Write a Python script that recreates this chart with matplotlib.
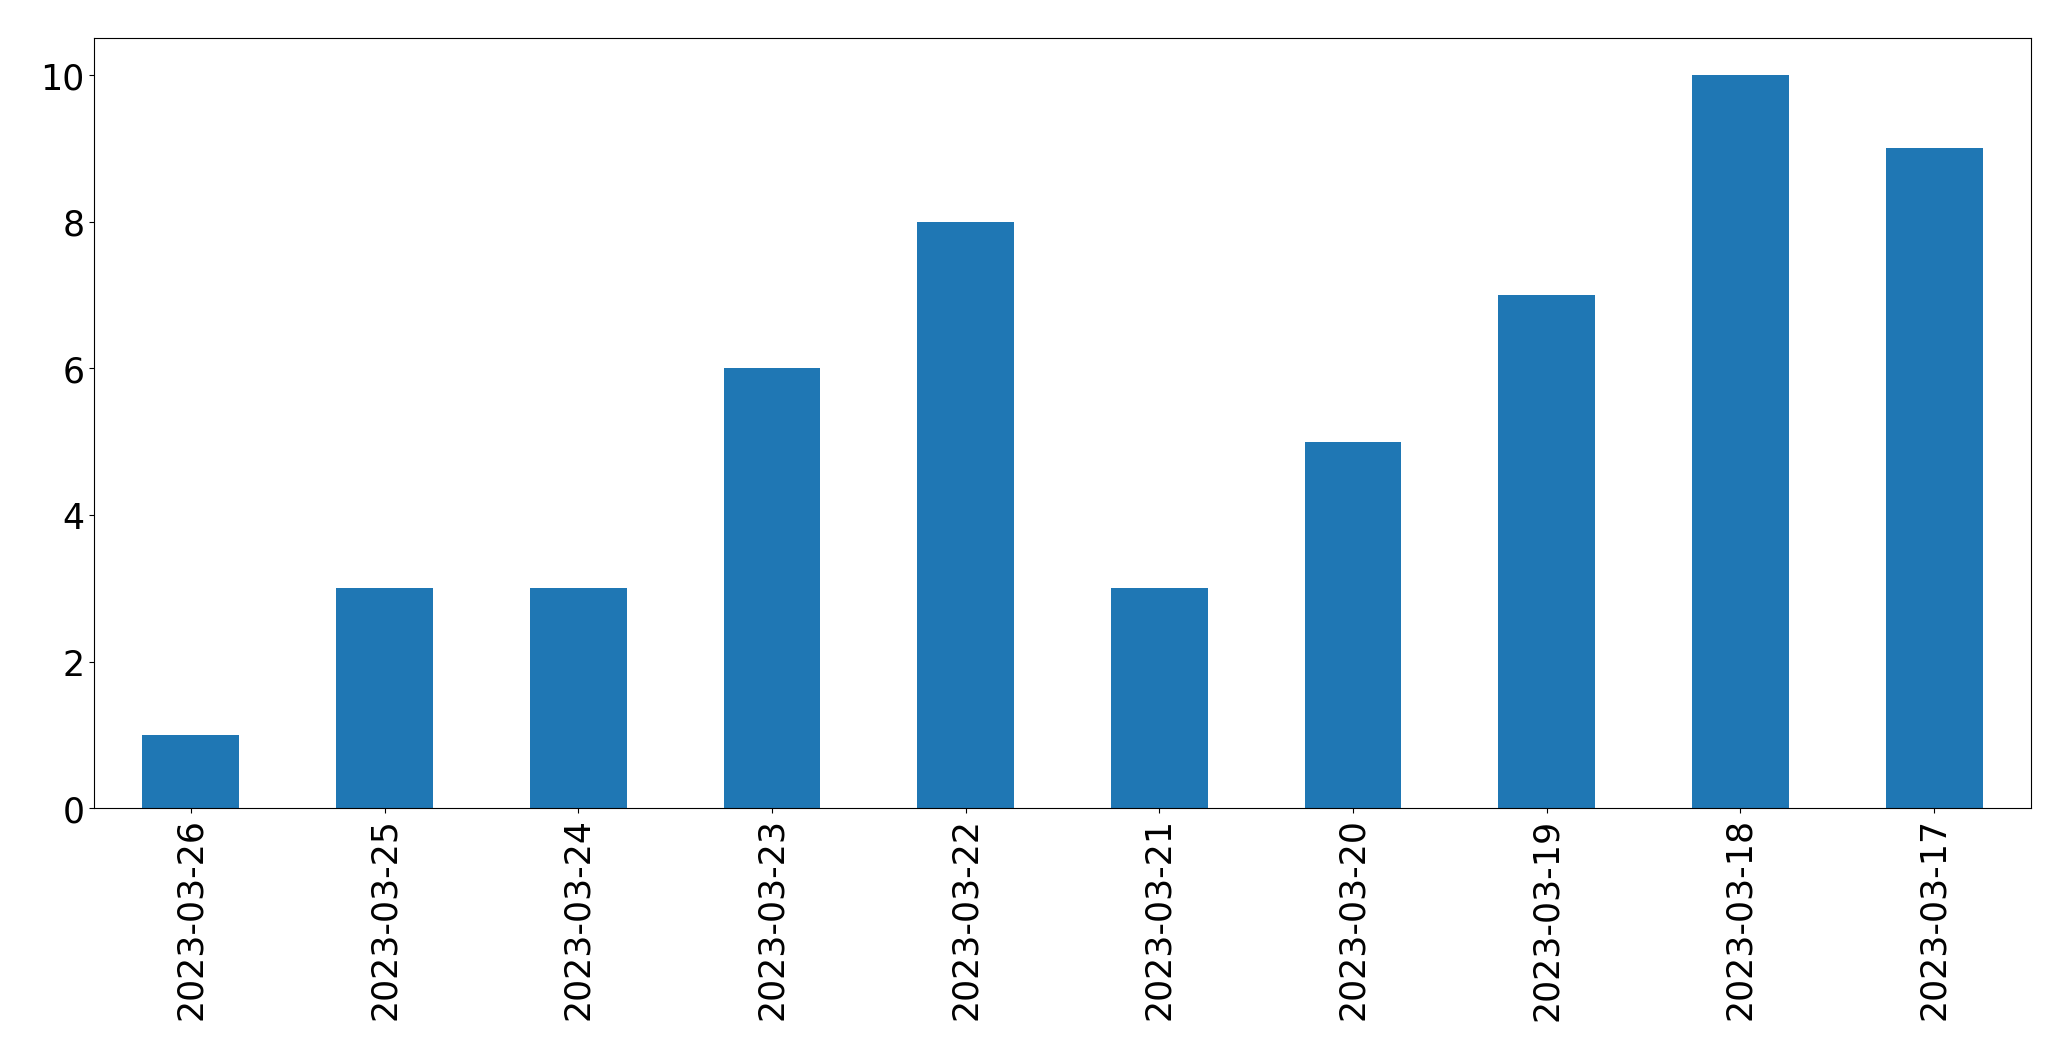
import matplotlib
matplotlib.use("Agg")
import matplotlib.pyplot as plt

dates = ["2023-03-26", "2023-03-25", "2023-03-24", "2023-03-23", "2023-03-22",
         "2023-03-21", "2023-03-20", "2023-03-19", "2023-03-18", "2023-03-17"]
counts = [1, 3, 3, 6, 8, 3, 5, 7, 10, 9]

fig = plt.figure(figsize=(20.71, 10.605), dpi=100)
ax = fig.add_axes([94 / 2071, 1 - 809 / 1061, (2031 - 94) / 2071, (809 - 39) / 1061])
x = list(range(len(dates)))
ax.bar(x, counts, width=0.5, color="#1f77b4")
ax.set_xlim(-0.5, len(dates) - 0.5)
ax.set_ylim(0, 10.5)
ax.set_xticks(x)
ax.set_xticklabels(dates, rotation=90, fontsize=25)
ax.set_yticks([0, 2, 4, 6, 8, 10])
ax.tick_params(axis="y", labelsize=25)
fig.savefig("out.png", dpi=100)
